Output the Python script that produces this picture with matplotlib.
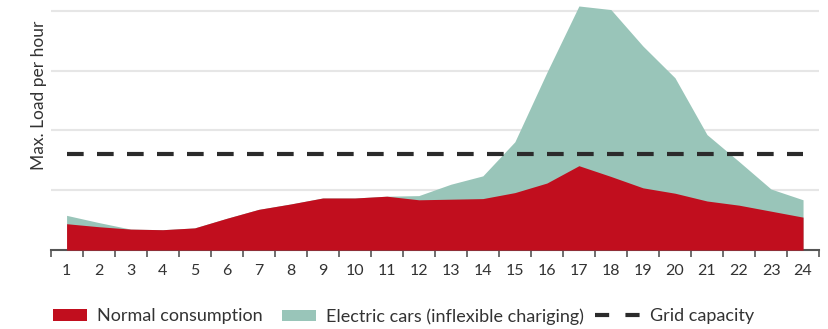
import matplotlib
matplotlib.use("Agg")
import matplotlib.pyplot as plt
from matplotlib.lines import Line2D
import numpy as np

plt.rcParams["font.family"] = ["Lato", "DejaVu Sans"]

# hours of the day
HOURS = list(range(1, 25))
# normal household consumption (load units, grid lines every 1.0)
NORMAL = [0.44, 0.39, 0.35, 0.34, 0.37, 0.53, 0.68, 0.77, 0.87, 0.87, 0.90, 0.84,
          0.85, 0.86, 0.96, 1.12, 1.41, 1.23, 1.04, 0.95, 0.82, 0.75, 0.65, 0.55]
# total load incl. electric cars (inflexible charging)
TOTAL = [0.58, 0.46, 0.35, 0.34, 0.37, 0.53, 0.68, 0.77, 0.87, 0.87, 0.90, 0.91,
         1.10, 1.24, 1.81, 2.97, 4.08, 4.02, 3.41, 2.88, 1.93, 1.48, 1.02, 0.84]
GRID_CAPACITY = 1.60

RED = "#C10E1E"
TEAL = "#99C5B9"
DARK = "#2b2b2b"
TEXT = "#333333"

fig = plt.figure(figsize=(8.29, 3.29), dpi=100)
ax = fig.add_axes([0.061, 0.24, 0.927, 0.76])

x = np.array(HOURS)
teal = ax.fill_between(x, 0, TOTAL, color=TEAL, linewidth=0, zorder=2)
red = ax.fill_between(x, 0, NORMAL, color=RED, linewidth=0, zorder=3)
ax.plot([HOURS[0], HOURS[-1]], [GRID_CAPACITY] * 2, color=DARK, lw=3,
        dashes=(4, 3.2), zorder=4)

ax.set_xlim(0.5, 24.5)
ax.set_ylim(0, 4.18)

for gy in [1, 2, 3, 4]:
    ax.axhline(gy, color="#e6e6e6", lw=1.5, zorder=1)

ax.set_xticks(np.arange(0.5, 25, 1))
ax.set_xticklabels([])
ax.set_xticks(HOURS, minor=True)
ax.set_xticklabels([str(h) for h in HOURS], minor=True, fontsize=11.5, color=TEXT)
ax.tick_params(axis="x", which="major", length=5, width=1.2, color="#555555")
ax.tick_params(axis="x", which="minor", length=0, pad=10)
ax.set_yticks([])
for s in ["top", "right", "left"]:
    ax.spines[s].set_visible(False)
ax.spines["bottom"].set_color("#555555")
ax.spines["bottom"].set_linewidth(1.5)

ax.set_ylabel("Max. Load per hour", fontsize=12.5, color=TEXT)
ax.yaxis.set_label_coords(-0.005, 0.62)

# legend: three separate entries so the dashed handle can be wider
leg_kw = dict(loc="center left", frameon=False, fontsize=13, borderpad=0,
              borderaxespad=0, handleheight=0.62, handletextpad=0.55,
              labelcolor=TEXT)
fig.legend([red], ["Normal consumption"], bbox_to_anchor=(0.064, 0.038),
           handlelength=1.9, **leg_kw)
fig.legend([teal], ["Electric cars (inflexible chariging)"],
           bbox_to_anchor=(0.340, 0.038), handlelength=1.9, **leg_kw)
dash_handle = Line2D([], [], color=DARK, lw=3, dashes=(3.4, 3.9))
fig.legend([dash_handle], ["Grid capacity"], bbox_to_anchor=(0.718, 0.038),
           handlelength=2.5, **leg_kw)

fig.savefig("out.png", dpi=100)
